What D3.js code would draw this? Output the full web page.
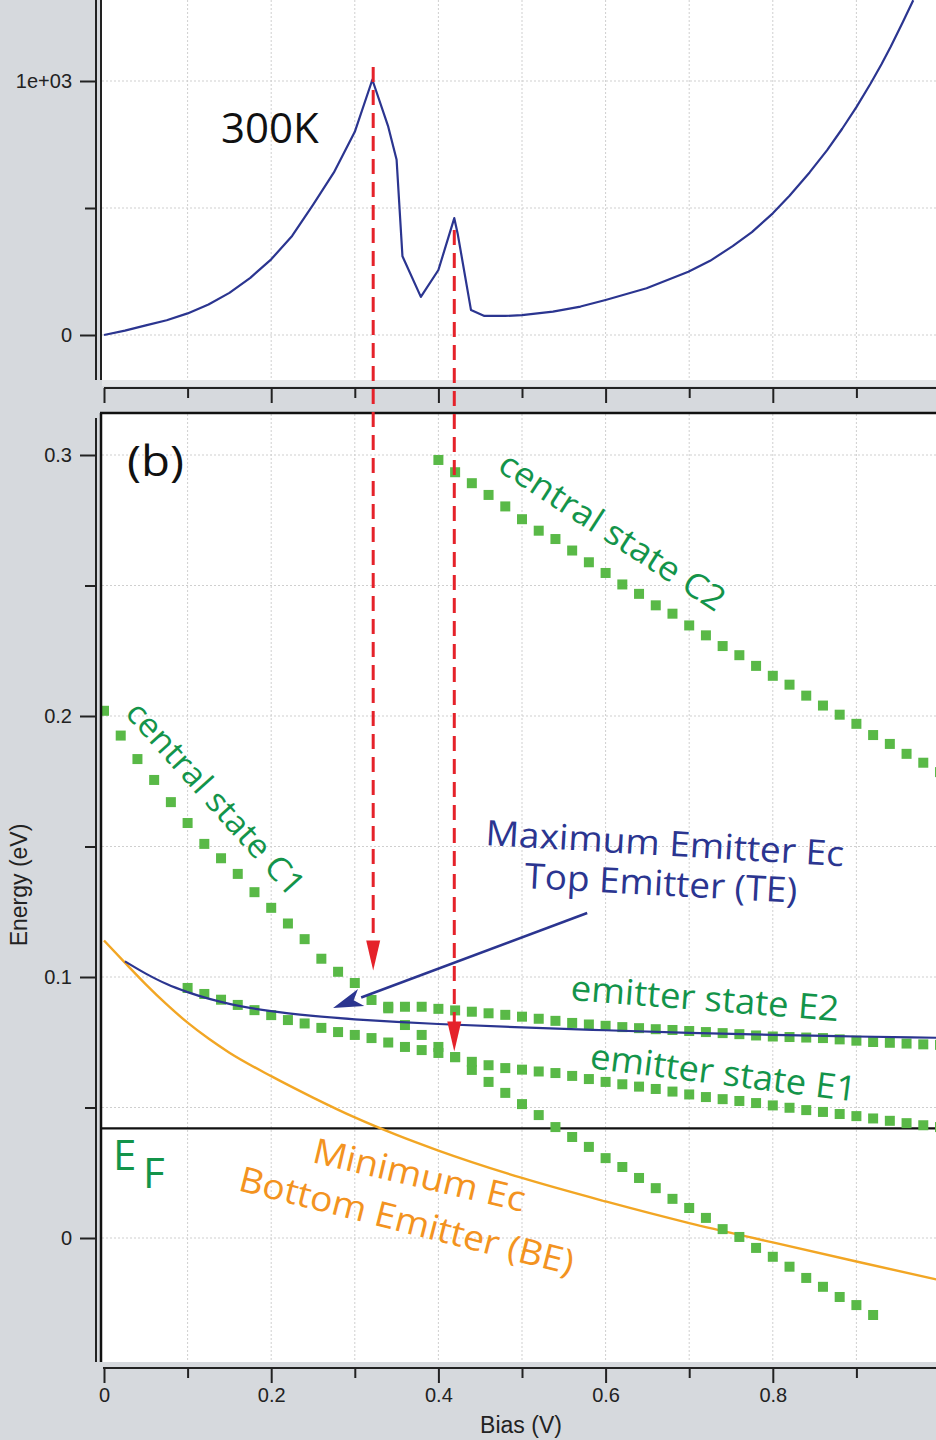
<!DOCTYPE html>
<html>
<head>
<meta charset="utf-8">
<script src="https://cdn.jsdelivr.net/npm/d3@7/dist/d3.min.js"></script>
<style>
  body { margin: 0; background: #d6d9dd; }
  svg { display: block; }
  .tick text { font-family: "Liberation Sans", Arial, sans-serif; font-size: 20px; fill: #222; }
  .tick line { stroke: #222; stroke-width: 2; }
  .ann { font-family: "Open Sans", "Noto Sans", sans-serif; }
</style>
</head>
<body>
<svg id="chart" width="936" height="1440"></svg>
<script>
"use strict";

// ---- top panel: current vs bias at 300K ----
var currentBias  = [0, 0.025, 0.05, 0.075, 0.1, 0.125, 0.15, 0.175, 0.2, 0.225, 0.25, 0.275, 0.3, 0.321, 0.34, 0.35, 0.357, 0.379, 0.40, 0.419, 0.423, 0.439, 0.455, 0.48, 0.50, 0.537, 0.57, 0.60, 0.649, 0.699, 0.725, 0.752, 0.775, 0.80, 0.82, 0.844, 0.865, 0.883, 0.90, 0.917, 0.93, 0.941, 0.955, 0.968];
var currentValue = [0, 17, 38, 58, 85, 120, 166, 225, 298, 390, 512, 640, 800, 1005, 820, 690, 310, 150, 256, 460, 400, 98, 75, 75, 78, 92, 112, 138, 184, 249, 292, 350, 405, 479, 548, 640, 728, 812, 897, 990, 1066, 1135, 1228, 1318];
var topTicks = [0, 1000];
var topTickLabels = ['0', '1e+03'];
var topMinorTicks = [500];

// ---- bottom panel: energy levels vs bias ----
var c1Bias = d3.range(0, 47).map(function(i){ return i * 0.02; });
var c1Energy = [0.202, 0.1925, 0.1835, 0.1755, 0.167, 0.159, 0.151, 0.1455, 0.1395, 0.1325,
                0.1265, 0.1205, 0.1145, 0.107, 0.102, 0.0977, 0.0912, 0.088, 0.0816, 0.0778,
                0.0732, 0.0693, 0.0644, 0.0598, 0.0556, 0.0513, 0.0471, 0.0425, 0.0387, 0.0349,
                0.0306, 0.0272, 0.023, 0.0191, 0.015, 0.0115, 0.0077, 0.0034, 0.0004, -0.0038,
                -0.0072, -0.011, -0.0153, -0.0187, -0.0226, -0.0257, -0.0295];

var c2Bias = d3.range(0, 31).map(function(i){ return 0.40 + i * 0.02; });
var c2Energy = [0.2981, 0.2934, 0.2892, 0.2847, 0.2803, 0.2754, 0.271, 0.2678, 0.2634, 0.2589,
                0.2548, 0.2504, 0.2468, 0.2424, 0.2392, 0.2347, 0.2309, 0.2268, 0.2233, 0.2192,
                0.2154, 0.212, 0.2078, 0.204, 0.2005, 0.197, 0.1927, 0.1893, 0.1855, 0.1821, 0.1785];

var e1Bias = d3.range(0, 46).map(function(i){ return 0.10 + i * 0.02; });
var e1Energy = [0.0958, 0.0935, 0.0913, 0.0893, 0.0873, 0.0854, 0.0835, 0.0822, 0.0805, 0.0789,
                0.0778, 0.0766, 0.0749, 0.0732, 0.072, 0.0709, 0.0693, 0.0675, 0.0662, 0.0651,
                0.0645, 0.0638, 0.0632, 0.0621, 0.0609, 0.0598, 0.0589, 0.058, 0.0571, 0.0561,
                0.055, 0.054, 0.0532, 0.0525, 0.0517, 0.0508, 0.0499, 0.049, 0.0483, 0.0475,
                0.0467, 0.0458, 0.0449, 0.044, 0.0432, 0.0425];

var e2Bias = d3.range(0, 34).map(function(i){ return 0.34 + i * 0.02; });
var e2Energy = [0.0886, 0.0886, 0.0886, 0.0878, 0.0872, 0.0867, 0.0861, 0.0855, 0.0848, 0.084,
                0.0832, 0.0824, 0.0818, 0.0813, 0.0808, 0.0804, 0.08, 0.0797, 0.0793, 0.0789,
                0.0785, 0.0781, 0.0776, 0.0772, 0.077, 0.0768, 0.0766, 0.0761, 0.0756, 0.0751,
                0.0748, 0.0745, 0.0742, 0.074];

var topEmitterBias   = [0.025, 0.05, 0.075, 0.1, 0.125, 0.15, 0.2, 0.25, 0.3, 0.35, 0.4, 0.5, 0.6, 0.7, 0.8, 0.9, 1.0];
var topEmitterEnergy = [0.106, 0.1013, 0.0973, 0.0942, 0.0917, 0.0897, 0.0869, 0.0851, 0.0838, 0.0828, 0.082, 0.0807, 0.0796, 0.0786, 0.0778, 0.0772, 0.0767];

var bottomEmitterBias   = [0, 0.025, 0.05, 0.075, 0.1, 0.125, 0.15, 0.2, 0.25, 0.3, 0.35, 0.4, 0.5, 0.6, 0.7, 0.8, 0.9, 1.0];
var bottomEmitterEnergy = [0.114, 0.1055, 0.0972, 0.0895, 0.0825, 0.0764, 0.071, 0.062, 0.0538, 0.0462, 0.0395, 0.0335, 0.023, 0.014, 0.0057, -0.0017, -0.009, -0.0162];

var fermiEnergy = 0.042;

var biasTicks = [0, 0.2, 0.4, 0.6, 0.8, 1.0];
var biasTickLabels = ['0', '0.2', '0.4', '0.6', '0.8', ''];
var biasMinorTicks = [0.1, 0.3, 0.5, 0.7, 0.9];
var energyTicks = [0, 0.1, 0.2, 0.3];
var energyTickLabels = ['0', '0.1', '0.2', '0.3'];
var energyMinorTicks = [0.05, 0.15, 0.25];

// red arrows: bias, start (top panel value), tip (energy)
var redArrows = [
  {bias: 0.322, from: 1055, to: 0.1025},
  {bias: 0.419, from: 413, to: 0.0715}
];

var svg = d3.select('#chart');
var W = 936;

var x = d3.scaleLinear().domain([0, 1]).range([104, 940]);
var yTop = d3.scaleLinear().domain([0, 1000]).range([335, 81]);
var yBot = d3.scaleLinear().domain([0, 0.1]).range([1238, 977]);

var green = '#59b947', greenText = '#13944a', blue = '#2b3590', orange = '#f2a624', orangeText = '#f39320', red = '#e5222a';

svg.append('rect').attr('width', W).attr('height', 1440).attr('fill', '#d6d9dd');

var defs = svg.append('defs');
defs.append('clipPath').attr('id', 'clipTop').append('rect')
  .attr('x', 102).attr('y', 0).attr('width', W - 102).attr('height', 380);
defs.append('clipPath').attr('id', 'clipBot').append('rect')
  .attr('x', 102).attr('y', 414).attr('width', W - 102).attr('height', 948);

// ---------- top panel ----------
svg.append('rect').attr('x', 102).attr('y', 0).attr('width', W - 102).attr('height', 380).attr('fill', '#fff');
svg.append('rect').attr('x', 102).attr('y', 380).attr('width', W - 102).attr('height', 6).attr('fill', '#e4e6e8');

var topPanel = svg.append('g').attr('clip-path', 'url(#clipTop)');
topPanel.selectAll('line.vg').data(d3.range(1, 10).map(function(i){ return i / 10; })).enter()
  .append('line').attr('class', 'vg')
  .attr('x1', function(d){ return x(d); }).attr('x2', function(d){ return x(d); })
  .attr('y1', 0).attr('y2', 380)
  .attr('stroke', '#cfcfcf').attr('stroke-dasharray', '2,2');
topPanel.selectAll('line.hg').data([0, 500, 1000]).enter()
  .append('line').attr('class', 'hg')
  .attr('x1', 102).attr('x2', W)
  .attr('y1', function(d){ return yTop(d); }).attr('y2', function(d){ return yTop(d); })
  .attr('stroke', '#cfcfcf').attr('stroke-dasharray', '2,2');

var topLine = d3.line()
  .x(function(d){ return x(d[0]); })
  .y(function(d){ return yTop(d[1]); });
topPanel.append('path')
  .datum(d3.zip(currentBias, currentValue))
  .attr('d', topLine)
  .attr('fill', 'none').attr('stroke', blue).attr('stroke-width', 2.2)
  .attr('stroke-linejoin', 'round');

svg.append('text').attr('class', 'ann')
  .attr('x', x(0.14)).attr('y', yTop(756))
  .attr('font-size', 42).attr('fill', '#111').text('300K');

// top y axis
svg.append('g').attr('transform', 'translate(96,0)')
  .call(d3.axisLeft(yTop).tickValues(topTicks).tickSize(16).tickPadding(8)
    .tickFormat(function(d, i){ return topTickLabels[i]; }))
  .call(function(g){ g.select('.domain').remove(); });
svg.append('g').attr('transform', 'translate(96,0)')
  .call(d3.axisLeft(yTop).tickValues(topMinorTicks).tickSize(11).tickFormat(''))
  .call(function(g){ g.select('.domain').remove(); });
svg.append('line').attr('x1', 96).attr('x2', 96).attr('y1', 0).attr('y2', 380).attr('stroke', '#222').attr('stroke-width', 2);
svg.append('line').attr('x1', 101).attr('x2', 101).attr('y1', 0).attr('y2', 380).attr('stroke', '#222').attr('stroke-width', 2);

// top x axis (no labels)
svg.append('g').attr('transform', 'translate(0,388)')
  .call(d3.axisBottom(x).tickValues(biasTicks).tickSize(15).tickFormat(''))
  .call(function(g){ g.select('.domain').remove(); });
svg.append('g').attr('transform', 'translate(0,388)')
  .call(d3.axisBottom(x).tickValues(biasMinorTicks).tickSize(10).tickFormat(''))
  .call(function(g){ g.select('.domain').remove(); });
svg.append('line').attr('x1', x(0)).attr('x2', W).attr('y1', 388).attr('y2', 388).attr('stroke', '#222').attr('stroke-width', 2);

// ---------- bottom panel ----------
svg.append('rect').attr('x', 102).attr('y', 414).attr('width', W - 102).attr('height', 948).attr('fill', '#fff');
var botPanel = svg.append('g').attr('clip-path', 'url(#clipBot)');

botPanel.selectAll('line.vg').data(d3.range(1, 10).map(function(i){ return i / 10; })).enter()
  .append('line').attr('class', 'vg')
  .attr('x1', function(d){ return x(d); }).attr('x2', function(d){ return x(d); })
  .attr('y1', 414).attr('y2', 1362)
  .attr('stroke', '#cfcfcf').attr('stroke-dasharray', '2,2');
botPanel.selectAll('line.hg').data(d3.range(0, 7).map(function(i){ return i * 0.05; })).enter()
  .append('line').attr('class', 'hg')
  .attr('x1', 102).attr('x2', W)
  .attr('y1', function(d){ return yBot(d); }).attr('y2', function(d){ return yBot(d); })
  .attr('stroke', '#cfcfcf').attr('stroke-dasharray', '2,2');

// Fermi level
botPanel.append('line')
  .attr('x1', 102).attr('x2', W)
  .attr('y1', yBot(fermiEnergy)).attr('y2', yBot(fermiEnergy))
  .attr('stroke', '#111').attr('stroke-width', 2.2);

var botLine = d3.line()
  .x(function(d){ return x(d[0]); })
  .y(function(d){ return yBot(d[1]); })
  .curve(d3.curveMonotoneX);

botPanel.append('path')
  .datum(d3.zip(bottomEmitterBias, bottomEmitterEnergy))
  .attr('d', botLine)
  .attr('fill', 'none').attr('stroke', orange).attr('stroke-width', 2.4);

var states = [
  {bias: c1Bias, energy: c1Energy},
  {bias: c2Bias, energy: c2Energy},
  {bias: e1Bias, energy: e1Energy},
  {bias: e2Bias, energy: e2Energy}
];
states.forEach(function(s){
  botPanel.selectAll(null).data(d3.zip(s.bias, s.energy)).enter()
    .append('rect')
    .attr('x', function(d){ return x(d[0]) - 5; })
    .attr('y', function(d){ return yBot(d[1]) - 5; })
    .attr('width', 10).attr('height', 10)
    .attr('fill', green);
});

botPanel.append('path')
  .datum(d3.zip(topEmitterBias, topEmitterEnergy))
  .attr('d', botLine)
  .attr('fill', 'none').attr('stroke', blue).attr('stroke-width', 2.2);

// bottom y axis
svg.append('g').attr('transform', 'translate(96,0)')
  .call(d3.axisLeft(yBot).tickValues(energyTicks).tickSize(16).tickPadding(8)
    .tickFormat(function(d, i){ return energyTickLabels[i]; }))
  .call(function(g){ g.select('.domain').remove(); });
svg.append('g').attr('transform', 'translate(96,0)')
  .call(d3.axisLeft(yBot).tickValues(energyMinorTicks).tickSize(11).tickFormat(''))
  .call(function(g){ g.select('.domain').remove(); });
svg.append('line').attr('x1', 96).attr('x2', 96).attr('y1', 418).attr('y2', 1362).attr('stroke', '#222').attr('stroke-width', 2);
svg.append('line').attr('x1', 101).attr('x2', 101).attr('y1', 413).attr('y2', 1362).attr('stroke', '#111').attr('stroke-width', 2.5);
svg.append('line').attr('x1', 100).attr('x2', W).attr('y1', 413).attr('y2', 413).attr('stroke', '#111').attr('stroke-width', 2.5);

// bottom x axis
svg.append('g').attr('transform', 'translate(0,1368)')
  .call(d3.axisBottom(x).tickValues(biasTicks).tickSize(15).tickPadding(5)
    .tickFormat(function(d, i){ return biasTickLabels[i]; }))
  .call(function(g){ g.select('.domain').remove(); });
svg.append('g').attr('transform', 'translate(0,1368)')
  .call(d3.axisBottom(x).tickValues(biasMinorTicks).tickSize(10).tickFormat(''))
  .call(function(g){ g.select('.domain').remove(); });
svg.append('line').attr('x1', x(0) - 1).attr('x2', W).attr('y1', 1368).attr('y2', 1368).attr('stroke', '#222').attr('stroke-width', 2);

svg.append('text')
  .attr('transform', 'translate(27,885) rotate(-90)')
  .attr('text-anchor', 'middle')
  .style('font-family', '"Liberation Sans", Arial, sans-serif').style('font-size', '23px')
  .attr('fill', '#222').text('Energy (eV)');
svg.append('text')
  .attr('x', 521).attr('y', 1433)
  .attr('text-anchor', 'middle')
  .style('font-family', '"Liberation Sans", Arial, sans-serif').style('font-size', '23px')
  .attr('fill', '#222').text('Bias (V)');

// ---------- red dashed arrows (span both panels) ----------
var headLen = 30, headHalf = 7;
redArrows.forEach(function(a){
  var px = x(a.bias), y0 = yTop(a.from), y1 = yBot(a.to);
  svg.append('line')
    .attr('x1', px).attr('x2', px).attr('y1', y0).attr('y2', y1 - headLen + 2)
    .attr('stroke', red).attr('stroke-width', 3).attr('stroke-dasharray', '15,8');
  svg.append('path')
    .attr('d', 'M' + (px - headHalf) + ',' + (y1 - headLen) + 'L' + (px + headHalf) + ',' + (y1 - headLen) + 'L' + px + ',' + y1 + 'Z')
    .attr('fill', red);
});

// ---------- blue arrow ----------
var arrowFrom = [0.578, 0.1245], arrowTo = [0.274, 0.0881];
var ax0 = x(arrowFrom[0]), ay0 = yBot(arrowFrom[1]), ax1 = x(arrowTo[0]), ay1 = yBot(arrowTo[1]);
var ang = Math.atan2(ay1 - ay0, ax1 - ax0);
var bl = 30, bw = 9;
var bx = ax1 - bl * Math.cos(ang), by = ay1 - bl * Math.sin(ang);
svg.append('line').attr('x1', ax0).attr('y1', ay0).attr('x2', bx).attr('y2', by)
  .attr('stroke', blue).attr('stroke-width', 2.6);
svg.append('path')
  .attr('d', 'M' + ax1 + ',' + ay1 +
    'L' + (bx + bw * Math.sin(ang)) + ',' + (by - bw * Math.cos(ang)) +
    'L' + (bx + 8 * Math.cos(ang)) + ',' + (by + 8 * Math.sin(ang)) +
    'L' + (bx - bw * Math.sin(ang)) + ',' + (by + bw * Math.cos(ang)) + 'Z')
  .attr('fill', blue);

// ---------- annotations ----------
var labels = [
  {text: '(b)', bias: 0.0275, energy: 0.292, angle: 0, size: 42, len: 57, color: '#111'},
  {text: 'central state C2', bias: 0.469, energy: 0.2943, angle: 33, size: 34, len: 262, color: greenText},
  {text: 'central state C1', bias: 0.024, energy: 0.2008, angle: 48, size: 33, len: 248, color: greenText},
  {text: 'Maximum Emitter Ec', bias: 0.4557, energy: 0.1506, angle: 3.4, size: 35, len: 359, color: blue},
  {text: 'Top Emitter (TE)', bias: 0.5024, energy: 0.1341, angle: 3.1, size: 35, len: 273, color: blue},
  {text: 'emitter state E2', bias: 0.5574, energy: 0.0912, angle: 4.5, size: 35, len: 269, color: greenText},
  {text: 'emitter state E1', bias: 0.5801, energy: 0.0651, angle: 7.2, size: 35, len: 268, color: greenText},
  {text: 'Minimum Ec', bias: 0.2476, energy: 0.0291, angle: 13.3, size: 35, len: 217, color: orangeText},
  {text: 'Bottom Emitter (BE)', bias: 0.1591, energy: 0.0184, angle: 14.3, size: 35, len: 344, color: orangeText}
];
svg.selectAll('text.lbl').data(labels).enter()
  .append('text').attr('class', 'ann lbl')
  .attr('transform', function(d){ return 'translate(' + x(d.bias) + ',' + yBot(d.energy) + ') rotate(' + d.angle + ')'; })
  .attr('font-size', function(d){ return d.size; })
  .attr('textLength', function(d){ return d.len; })
  .attr('lengthAdjust', 'spacingAndGlyphs')
  .attr('fill', function(d){ return d.color; })
  .text(function(d){ return d.text; });

var ef = svg.append('text').attr('class', 'ann')
  .attr('x', x(0.0108)).attr('y', yBot(0.0261))
  .attr('font-size', 42).attr('fill', greenText);
ef.append('tspan').text('E');
ef.append('tspan').attr('x', x(0.0467)).attr('y', yBot(0.0192)).text('F');
</script>
</body>
</html>
